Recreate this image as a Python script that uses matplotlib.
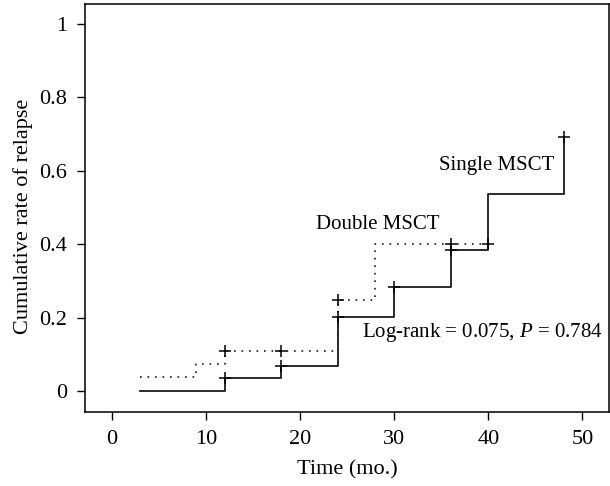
import matplotlib
matplotlib.use("Agg")
import matplotlib.pyplot as plt

# Data
single_t = [3, 12, 18, 24, 30, 36, 40, 48]
single_y = [0.0, 0.035, 0.069, 0.203, 0.284, 0.384, 0.537, 0.693]
double_t = [3, 9, 12, 24, 28, 40]
double_y = [0.039, 0.074, 0.110, 0.248, 0.400, 0.400]
single_cens_t = [12, 18, 24, 30, 36, 48]
single_cens_y = [0.035, 0.069, 0.203, 0.284, 0.384, 0.693]
double_cens_t = [12, 18, 24, 36, 40]
double_cens_y = [0.110, 0.110, 0.248, 0.400, 0.400]
x_ticks = [0, 10, 20, 30, 40, 50]
y_ticks = [0, 0.2, 0.4, 0.6, 0.8, 1.0]
y_ticklabels = ["0", "0.2", "0.4", "0.6", "0.8", "1"]

plt.rcParams['font.family'] = ['Liberation Serif', 'DejaVu Serif']
plt.rcParams['mathtext.fontset'] = 'custom'
plt.rcParams['mathtext.rm'] = 'Liberation Serif'
plt.rcParams['mathtext.it'] = 'Liberation Serif:italic'

fig = plt.figure(figsize=(6.10, 4.86), dpi=100)
ax = fig.add_axes([0.140, 0.153, 0.858, 0.839])

ax.plot(single_t, single_y, drawstyle='steps-post', color='#1a1a1a', lw=1.3)
ax.plot(double_t, double_y, drawstyle='steps-post', color='#1a1a1a', lw=1.2,
        linestyle=(0, (1, 3.5)))
ax.plot(single_cens_t, single_cens_y, linestyle='none', marker='+', color='black',
        markersize=8, markeredgewidth=1.1)
ax.plot(double_cens_t, double_cens_y, linestyle='none', marker='+', color='black',
        markersize=8, markeredgewidth=1.1)

ax.set_xlim(-2.8, 52.8)
ax.set_ylim(-0.056, 1.055)
ax.set_xticks(x_ticks)
ax.set_yticks(y_ticks)
ax.set_yticklabels(y_ticklabels)
ax.tick_params(direction='out', length=6, width=1, labelsize=16, pad=7)
for s in ax.spines.values():
    s.set_linewidth(1.1)

ax.set_xlabel("Time (mo.)", fontsize=16)
ax.set_ylabel("Cumulative rate of relapse", fontsize=16)
ax.xaxis.set_label_coords(0.5, -0.118)
ax.yaxis.set_label_coords(-0.10, 0.48)

ax.text(47.0, 0.616, "Single MSCT", fontsize=15, ha='right', va='center')
ax.text(28.3, 0.453, "Double MSCT", fontsize=15, ha='center', va='center')
ax.text(26.6, 0.159, "Log-rank = 0.075, $\\it{P}$ = 0.784", fontsize=15,
        ha='left', va='center')

fig.savefig("out.png", dpi=100)
